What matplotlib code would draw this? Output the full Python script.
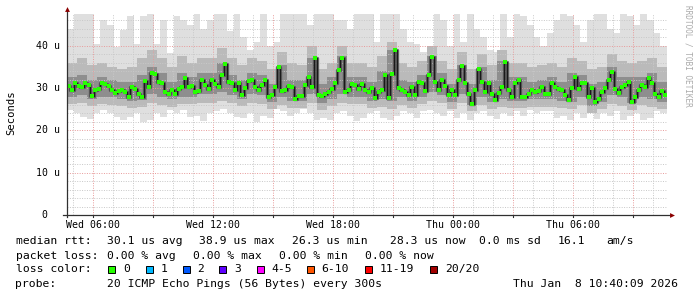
"""
SmokePing style latency chart (30 h, 20 ICMP pings every 300 s).
"""

import numpy as np
import matplotlib
matplotlib.use("Agg")
import matplotlib.pyplot as plt
from matplotlib.patches import Rectangle

W, H = 697, 297
MONO = "DejaVu Sans Mono"

# ─────────────────────────────────────────────
# DATA (microseconds)
# ─────────────────────────────────────────────
# median rtt, one value per 10 min
MEDIAN_RTT = [
    30.6, 29.5, 31.3, 30.5, 30.2, 31.3, 30.8, 28.1, 29.5, 29.7, 31.1, 30.9,
    30.6, 29.5, 28.9, 29.4, 29.5, 29.1, 27.8, 30.2, 29.7, 28.7, 28.0, 31.7,
    30.3, 33.6, 33.3, 31.5, 31.3, 29.1, 28.7, 29.5, 28.7, 29.7, 30.2, 32.3,
    30.3, 30.5, 29.1, 29.4, 31.9, 30.7, 29.7, 31.9, 30.9, 30.2, 33.1, 35.7,
    31.5, 31.1, 29.5, 31.3, 28.3, 29.9, 31.7, 31.9, 30.3, 29.5, 30.7, 31.9,
    27.8, 28.3, 30.2, 34.9, 29.4, 29.5, 30.5, 30.2, 27.3, 28.1, 28.1, 30.7,
    32.7, 30.3, 37.0, 28.3, 28.1, 28.6, 29.1, 29.8, 31.3, 34.3, 37.0, 29.1,
    29.5, 30.9, 30.7, 29.7, 30.9, 29.5, 29.1, 29.9, 27.6, 29.1, 29.5, 33.1,
    27.6, 33.3, 38.9, 29.9, 29.5, 29.1, 28.3, 30.3, 28.3, 31.5, 31.1, 29.4,
    33.1, 37.4, 31.5, 29.5, 31.9, 30.5, 28.3, 29.5, 28.3, 31.9, 35.2, 31.1,
    28.7, 26.3, 29.5, 34.6, 31.5, 29.1, 31.1, 28.7, 27.2, 28.9, 30.2, 36.2,
    29.5, 27.8, 31.3, 31.9, 28.0, 27.8, 28.7, 29.5, 29.1, 29.4, 30.2, 28.6,
    28.6, 31.3, 30.3, 29.7, 29.5, 28.3, 27.2, 29.9, 32.5, 29.7, 31.1, 31.3,
    28.0, 29.9, 26.8, 27.3, 29.1, 29.9, 31.9, 33.9, 29.7, 28.9, 30.2, 30.7,
    31.5, 26.8, 28.0, 29.5, 30.7, 30.3, 32.3, 31.3, 28.6, 27.8, 29.4, 28.3,
]

# slowest / fastest ping, one value per 20 min
PING_MAX = [
    44, 47.5, 47.5, 47.5, 40.5, 46, 45, 39.8, 43.7, 47, 40.5, 47, 47.5, 40.5, 46, 38.2, 47, 46,
    45, 47.5, 44, 46, 47.5, 47.5, 43.5, 47.5, 42, 39, 41, 47.5, 40, 41, 47.5, 47.5, 47.5, 47.5,
    45, 47.5, 47.5, 47.5, 46, 46, 44, 47.5, 47.5, 47.5, 41, 47.5, 47.5, 47.5, 44, 41, 40.5, 38.5,
    40, 47.5, 46, 40, 47.5, 41, 47.5, 44, 42, 39, 38.5, 47.5, 42, 47.5, 47, 45, 42, 40,
    43, 46, 47.5, 47, 45, 41, 46, 47.5, 47.5, 44, 43, 47.5, 47, 45, 47.5, 46, 43, 40,
]
PING_MIN = [
    24.8, 24, 23.2, 22.8, 24, 24.8, 24, 23.2, 22.4, 23.2, 24, 22, 22.4, 24, 23.2, 24.8, 24, 24.8,
    23.2, 23.5, 22.2, 24, 24.5, 25, 24.2, 23.2, 23, 24, 22, 23.5, 23, 25, 24.5, 23.5, 24, 25,
    24, 22.5, 23, 22.5, 24, 24.5, 23.5, 22.2, 23, 24, 24.5, 23, 22.5, 23.5, 24.5, 24, 23, 24.5,
    24.8, 24, 23.5, 24.5, 23, 24, 22.5, 24, 24.5, 23.5, 22.8, 24, 23.5, 24.5, 23.5, 24.8, 24, 24.5,
    24.5, 23, 23.5, 22.5, 24, 23, 24.5, 22.6, 24, 23.5, 24.5, 22.5, 23.5, 24, 22.5, 23, 24.5, 24,
]

# inner smoke bands, one value per 30 min
PING_P90 = [
    36, 37, 35.5, 36, 35, 34.5, 35, 37, 39, 37, 35, 37.5,
    36, 37, 37, 39.5, 37, 35.5, 37, 36.5, 34.5, 38.5, 36, 35.5,
    40, 34.5, 36, 40, 36, 36, 35, 37.5, 41, 36, 35, 36.5,
    40, 36.5, 34.5, 38.5, 34.5, 38, 35.5, 39, 36, 36, 35, 35.5,
    36, 35, 37, 36.5, 34.5, 35, 38, 36.5, 36, 36.5, 37, 35,
]
PING_P75 = [
    32.5, 33, 32, 32.5, 32, 31.5, 31.5, 33, 35, 33.5, 31.5, 33.5,
    32.5, 33.5, 33.5, 36, 33, 32, 33.5, 33, 31, 35.5, 32, 32,
    37, 31, 32.5, 37.5, 32.5, 32.5, 31.5, 34, 39, 32, 31.5, 33,
    37.5, 33.5, 31, 35.5, 31, 35, 32, 36.5, 32.5, 32.5, 31.5, 32,
    32.5, 31.5, 33.5, 33, 31, 31.5, 35, 32.5, 32.5, 32.5, 33.5, 31.5,
]
PING_P25 = [
    28, 28.3, 27.5, 28, 27.8, 27.5, 27, 27.2, 28.5, 28, 27.3, 28,
    28, 28.5, 28.5, 29, 28.3, 27.5, 28.5, 28.3, 26.8, 28, 27, 27,
    28.5, 26.5, 27.5, 28.5, 28, 28, 27, 27.5, 27, 27.8, 27, 28,
    29, 28.3, 26.8, 28.5, 26, 28, 26.8, 27.5, 27, 27, 27.3, 27.3,
    27.5, 27, 26.8, 28, 25.8, 26.8, 28.3, 27.8, 26.5, 27.8, 27.5, 26.8,
]
PING_P10 = [
    26.3, 26.5, 25.8, 26.2, 26, 25.8, 25.3, 25.5, 26.5, 26, 25.5, 26.3,
    26.2, 26.5, 26.5, 27, 26.4, 25.7, 26.5, 26.3, 25, 26, 25.2, 25.3,
    26.5, 24.8, 25.8, 26.5, 26.2, 26.2, 25.3, 25.6, 25, 26, 25.2, 26.2,
    27, 26.5, 25, 26.5, 24.5, 26, 25, 25.5, 25.2, 25.2, 25.5, 25.5,
    25.5, 25.2, 25, 26, 24.2, 25, 26.3, 25.8, 24.8, 26, 25.5, 25,
]

START_CLOCK = 4.725          # Wed 04:43:30, hours
SPAN_H = 30
TICK_CLOCK = [6, 12, 18, 24, 30]
TICK_LABELS = ["Wed 06:00", "Wed 12:00", "Wed 18:00", "Thu 00:00", "Thu 06:00"]
Y_TICKS = [0, 10, 20, 30, 40]
Y_LABELS = ["0", "10 u", "20 u", "30 u", "40 u"]

LOSS_LABELS = ["0", "1", "2", "3", "4-5", "6-10", "11-19", "20/20"]
LOSS_COLORS = ["#26ff00", "#00b8ff", "#0059ff", "#5e00ff",
               "#ff00ff", "#ff5500", "#ff0000", "#a10000"]

YMAX = 47.5
C_MINOR = "#c8c8c8"
C_MAJOR = "#e89a9a"
C_AXIS = "#303030"
C_ARROW = "#8b0000"
FS_LEGEND = 8.2


def stair(vals):
    n = len(vals)
    x = np.arange(n + 1) * (SPAN_H / n)
    y = np.append(vals, vals[-1])
    return x, y


def fx(px):
    return px / W


def fy(py):
    return 1 - py / H


fig = plt.figure(figsize=(W / 100, H / 100), dpi=100)
fig.patch.set_facecolor("white")
ax = fig.add_axes([fx(67), fy(215), 600 / W, 201 / H])
ax.set_xlim(0, SPAN_H)
ax.set_ylim(0, YMAX)
for s in ax.spines.values():
    s.set_visible(False)
ax.set_yticks([])
ax.set_xticks([])

# smoke
x, top = stair(PING_MAX)
_, bot = stair(PING_MIN)
ax.fill_between(x, bot, top, step="post", color="#dfdfdf", lw=0, zorder=1)
x, top = stair(PING_P90)
_, bot = stair(PING_P10)
ax.fill_between(x, bot, top, step="post", color="#bababa", lw=0, zorder=1.1)
x, top = stair(PING_P75)
_, bot = stair(PING_P25)
ax.fill_between(x, bot, top, step="post", color="#8e8e8e", lw=0, zorder=1.2)

# grid (drawn over the smoke like rrdtool does)
for h in range(5, 35):
    t = h - START_CLOCK
    if 0 < t < SPAN_H:
        major = h % 3 == 0
        ax.axvline(t, color=C_MAJOR if major else C_MINOR, lw=0.7,
                   ls=(0, (1, 1.5)), zorder=2)
for v in range(2, 48, 2):
    major = v % 10 == 0
    ax.axhline(v, color=C_MAJOR if major else C_MINOR, lw=0.7,
               ls=(0, (1, 1.5)), zorder=2)

# median
x, y = stair(MEDIAN_RTT)
ax.step(x, y, where="post", color="#4a4a4a", lw=2.4, alpha=0.8, zorder=3)
ax.step(x, y, where="post", color="#1a1a1a", lw=0.8, zorder=3.1)
dt = SPAN_H / len(MEDIAN_RTT)
ax.plot(np.arange(len(MEDIAN_RTT)) * dt + dt / 2, MEDIAN_RTT, "s",
        color=LOSS_COLORS[0], ms=2.5, mew=0, zorder=4)

# axes with arrows
ax.plot([0, 0], [-0.01, 1.015], transform=ax.transAxes, color=C_AXIS,
        lw=0.9, clip_on=False, zorder=5)
ax.plot([-0.007, 1.005], [0, 0], transform=ax.transAxes, color=C_AXIS,
        lw=0.9, clip_on=False, zorder=5)
ax.plot([0], [1.025], "^", transform=ax.transAxes, color=C_ARROW, ms=3.5,
        mew=0, clip_on=False, zorder=6)
ax.plot([1.009], [0], ">", transform=ax.transAxes, color=C_ARROW, ms=3.5,
        mew=0, clip_on=False, zorder=6)
for h in range(6, 35, 3):
    t = h - START_CLOCK
    ax.plot([t, t], [0, -0.5], color=C_AXIS, lw=0.8, clip_on=False, zorder=5)

# tick labels
for h, lab in zip(TICK_CLOCK, TICK_LABELS):
    px = 67 + (h - START_CLOCK) * 20
    fig.text(fx(px), fy(224.5), lab, ha="center", va="center",
             fontsize=7.1, family=MONO, color="#000000")
for v, lab in zip(Y_TICKS, Y_LABELS):
    right = 47.5 if lab == "0" else 59.5
    fig.text(fx(right), fy(215 - v * 201 / YMAX), lab, ha="right",
             va="center", fontsize=7.1, family=MONO, color="#000000")

fig.text(fx(11), fy(113), "Seconds", rotation=90, ha="center", va="center",
         fontsize=7.6, family=MONO, color="#000000")
fig.text(fx(688), fy(5), "RRDTOOL / TOBI OETIKER", rotation=270,
         ha="center", va="top", fontsize=5.6, family=MONO, color="#aaaaaa")

# legend
ROW_Y = [241.3, 255.7, 269.0, 283.7]
LEGEND_ROWS = [
    [("median rtt:", 16), ("30.1 us avg", 107.3), ("38.9 us max", 199.3),
     ("26.3 us min", 292.3), ("28.3 us now", 390.3), ("0.0 ms sd", 479.3),
     ("16.1", 558), ("am/s", 607)],
    [("packet loss:", 16), ("0.00 % avg", 107.3), ("0.00 % max", 193.3),
     ("0.00 % min", 279.3), ("0.00 % now", 365.3)],
    [("loss color:", 16)],
    [("probe:", 16), ("20 ICMP Echo Pings (56 Bytes) every 300s", 107.3),
     ("Thu Jan  8 10:40:09 2026", 513.7)],
]
for row_y, row in zip(ROW_Y, LEGEND_ROWS):
    for txt, px in row:
        fig.text(fx(px - 0.5), fy(row_y), txt, ha="left", va="center",
                 fontsize=FS_LEGEND, family=MONO, color="#000000")

SQ_X = [108.3, 145.7, 182.7, 219.3, 256.7, 307.0, 365.3, 430.3]
for sx, lab, col in zip(SQ_X, LOSS_LABELS, LOSS_COLORS):
    fig.add_artist(Rectangle((fx(sx), fy(272.5)), 7 / W, 7 / H,
                             transform=fig.transFigure, facecolor=col,
                             edgecolor="#000000", lw=0.7))
    fig.text(fx(sx + 14.5), fy(269.0), lab, ha="left", va="center",
             fontsize=FS_LEGEND, family=MONO, color="#000000")

fig.savefig("out.png", dpi=100, facecolor="white")
plt.close(fig)
